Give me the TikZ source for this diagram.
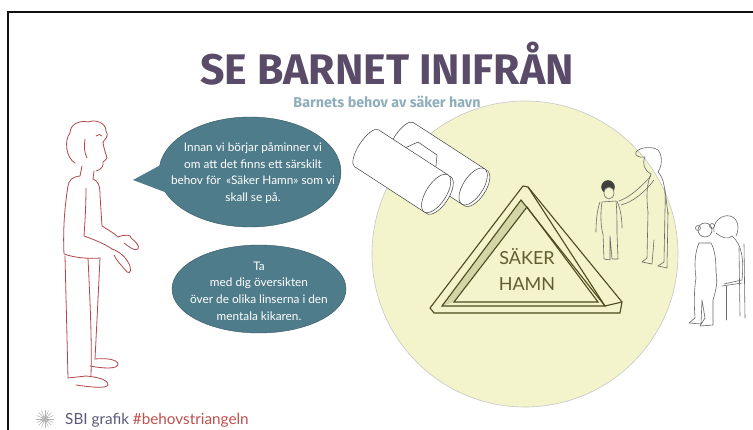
\documentclass[tikz,border=0pt]{standalone}
\usepackage{fontspec}
\setmainfont{Lato}
\newfontfamily\titlefont{Fira Sans}
\usetikzlibrary{calc}

\definecolor{frameblack}{HTML}{111111}
\definecolor{titlepurple}{HTML}{5A4B69}
\definecolor{subblue}{HTML}{8FAEBB}
\definecolor{bubblefill}{HTML}{4E7C8B}
\definecolor{lensfill}{HTML}{F3F3CC}
\definecolor{olive}{HTML}{4B4B1E}
\definecolor{olivetext}{HTML}{5E5E30}
\definecolor{stripfill}{HTML}{D3D6A6}
\definecolor{manred}{HTML}{B3474A}
\definecolor{sketchgray}{HTML}{6A6A6A}
\definecolor{footgray}{HTML}{5C5A78}
\definecolor{footred}{HTML}{C0504D}

\tikzset{
  bubble/.style={fill=bubblefill, draw=bubblefill!70!black, line width=0.4pt},
  bubbletext/.style={text=white, align=center, font=\fontsize{11.8}{16.6}\selectfont},
  barrel/.style={fill=white, draw=black!75, line width=0.5pt},
  tri/.style={draw=olive, line width=1.1pt, line join=miter},
  manline/.style={draw=manred, line width=0.8pt, line cap=round, line join=round},
  sketch/.style={draw=sketchgray, line width=0.6pt, line cap=round, line join=round},
}

\begin{document}
\begin{tikzpicture}[x=1pt, y=-1pt]
\useasboundingbox (0,0) rectangle (753,430);
\fill[white] (0,0) rectangle (753,430);

% frame
\draw[frameblack, line width=2.6pt] (8,432) -- (8,12) -- (756,12);

% lens circle
\draw[fill=lensfill, draw=black!22, line width=0.6pt] (525,254) circle [radius=153pt];

% title and subtitle
\node[font=\titlefont\bfseries\fontsize{42.8}{43}\selectfont, text=titlepurple, anchor=base] (title) at (387,85) {SE BARNET INIFRÅN};
\node[font=\titlefont\bfseries\fontsize{14.3}{15}\selectfont, text=subblue, anchor=base] (subtitle) at (387,108) {Barnets behov av säker havn};

% speech bubble 1 with tail
\draw[bubble] (250,172) ellipse [x radius=91pt, y radius=55pt];
\fill[bubblefill] (133,180) -- (170,160) -- (170,194) -- cycle;
\node[bubbletext] (b1) at (253,173) {Innan vi börjar påminner vi\\om att det finns ett särskilt\\behov för \,«Säker Hamn» som vi\\skall se på.};

% speech bubble 2
\draw[bubble] (259,289) ellipse [x radius=87pt, y radius=44pt];
\node[bubbletext] (b2) at (259,291) {Ta\\med dig översikten\\över de olika linserna i den\\mentala kikaren.};

% binoculars: right barrel, bridge, left barrel
\begin{scope}[shift={(474,187)}, rotate=-33]
  \fill[white] (-86,-21) rectangle (0,21);
  \draw[barrel] (-86,-21) -- (0,-21);
  \draw[barrel] (-86,21) -- (0,21);
  \draw[barrel] (-86,-21) arc [start angle=90, end angle=270, x radius=8pt, y radius=21pt];
  \draw[barrel] (2,0) ellipse [x radius=10pt, y radius=21pt];
  \draw[barrel] (-1,0) ellipse [x radius=10pt, y radius=21pt];
\end{scope}
\draw[barrel] (405,148) -- (418,142) -- (437,155) -- (436,166) -- (420,168) -- cycle;
\begin{scope}[shift={(437,194)}, rotate=-33]
  \fill[white] (-84,-22) rectangle (0,22);
  \draw[barrel] (-84,-22) -- (0,-22);
  \draw[barrel] (-84,22) -- (0,22);
  \draw[barrel] (-84,-22) arc [start angle=90, end angle=270, x radius=8pt, y radius=22pt];
  \draw[barrel] (2,0) ellipse [x radius=10pt, y radius=22pt];
  \draw[barrel] (-1,0) ellipse [x radius=10pt, y radius=22pt];
\end{scope}

% safe-harbour triangle
\coordinate (o1) at (523,186);
\coordinate (o2) at (528,187);
\coordinate (o3) at (622,302);
\coordinate (o4) at (620,313);
\coordinate (o5) at (434,313);
\coordinate (o6) at (430,308);
\coordinate (m1) at (521,200);
\coordinate (m2) at (442,306);
\coordinate (m3) at (605,306);
\coordinate (i1) at (527,207);
\coordinate (i2) at (454,302);
\coordinate (i3) at (598,302);
\fill[stripfill] (m1) -- (i1) -- (i2) -- (m2) -- cycle;
\draw[tri] (o1) -- (o2) -- (o3) -- (o4) -- (o5) -- (o6) -- cycle;
\draw[tri] (m1) -- (m2) -- (m3) -- cycle;
\draw[tri] (i1) -- (i2) -- (i3) -- cycle;
\draw[tri] (o2) -- (m3);
\draw[tri] (o3) -- (m3);
\node[font=\fontsize{18}{18}\selectfont, text=olivetext] (saker) at (527,257) {SÄKER};
\node[font=\fontsize{18}{18}\selectfont, text=olivetext] (hamn) at (527,284) {HAMN};

% man on the left
\draw[manline] (75,163) .. controls (66,158) and (64,140) .. (70,133)
  .. controls (70,124) and (80,120) .. (88,122)
  .. controls (96,119) and (106,123) .. (106,131)
  .. controls (110,136) and (104,140) .. (103,142);
\draw[manline] (103,142) .. controls (104,150) and (106,154) .. (107,158)
  .. controls (106,160) and (104,161) .. (103,162)
  .. controls (104,166) and (101,170) .. (96,171);
\draw[manline] (85,139) .. controls (84,146) and (84,152) .. (87,158);
\draw[manline] (96,136) .. controls (98,134) and (101,134) .. (102,136);
\draw[manline] (82,166) -- (80,176);
\draw[manline] (94,171) -- (93,179);
\draw[manline] (80,176) .. controls (72,177) and (69,180) .. (68,186)
  .. controls (64,210) and (63,235) .. (64,254)
  .. controls (75,258) and (90,259) .. (100,258);
\draw[manline] (93,179) .. controls (98,181) and (100,185) .. (100,195)
  -- (102,226);
\draw[manline] (86,188) .. controls (86,205) and (85,222) .. (84,236)
  .. controls (95,240) and (105,244) .. (112,249);
\draw[manline] (102,226) .. controls (108,230) and (114,233) .. (118,237);
\draw[manline] (118,237) .. controls (125,234) and (132,235) .. (131,238)
  .. controls (136,242) and (140,246) .. (138,249)
  .. controls (135,252) and (128,246) .. (124,243);
\draw[manline] (112,249) .. controls (118,251) and (124,255) .. (128,262)
  .. controls (132,268) and (131,275) .. (127,272)
  .. controls (122,266) and (116,260) .. (114,255);
\draw[manline] (65,256) -- (68,378) -- (86,376);
\draw[manline] (100,258) .. controls (98,300) and (96,340) .. (95,359);
\draw[manline] (88,258) .. controls (90,300) and (92,340) .. (91,376);
\draw[manline] (95,359) .. controls (105,358) and (117,359) .. (118,364)
  .. controls (118,370) and (100,368) .. (90,366);
\draw[manline] (86,376) .. controls (96,377) and (108,379) .. (108,385)
  .. controls (106,389) and (90,387) .. (76,385);

% standing adult and child
\draw[sketch] (636,152) .. controls (640,147) and (652,146) .. (658,150)
  .. controls (663,156) and (662,166) .. (658,172);
\draw[sketch] (636,152) .. controls (634,156) and (640,158) .. (645,157);
\draw[sketch] (645,157) .. controls (642,164) and (644,170) .. (651,174);
\draw[sketch] (651,174) .. controls (647,182) and (646,196) .. (648,212)
  -- (647,258) -- (642,262) -- (652,264) -- (654,240);
\draw[sketch] (658,172) .. controls (664,178) and (666,190) .. (665,210)
  -- (664,262) -- (658,266) -- (667,268) -- (668,212);
\draw[sketch] (651,176) .. controls (640,188) and (630,197) .. (619,201);
\draw[sketch] (654,180) .. controls (645,192) and (633,202) .. (621,205);
\draw[sketch] (665,190) -- (668,214);
\filldraw[black!75] (608,187) circle [radius=6.5pt];
\draw[sketch, fill=lensfill] (609,193) ellipse [x radius=5pt, y radius=6pt];
\draw[sketch] (600,202) .. controls (597,210) and (596,222) .. (596,232);
\draw[sketch] (617,201) .. controls (621,210) and (622,220) .. (622,228);
\draw[sketch] (602,202) .. controls (600,215) and (601,228) .. (603,234)
  -- (604,259) -- (610,260) -- (610,236) -- (612,259) -- (618,259) -- (617,233)
  .. controls (617,222) and (617,210) .. (616,201) -- cycle;

% seated adult with child on the lap
\draw[sketch] (714,232) .. controls (712,222) and (722,214) .. (730,216)
  .. controls (738,218) and (740,228) .. (736,236);
\draw[sketch] (716,233) .. controls (722,238) and (728,240) .. (732,236);
\draw[sketch] (732,236) .. controls (742,244) and (744,260) .. (742,280)
  -- (724,284);
\draw[sketch] (744,244) -- (745,318);
\draw[sketch] (739,248) -- (740,316);
\draw[sketch] (726,286) -- (726,320);
\draw[sketch] (722,286) -- (742,283);
\draw[sketch] (705,230) circle [radius=7pt];
\draw[sketch] (698,228) circle [radius=2.5pt];
\draw[sketch] (712,226) circle [radius=2.5pt];
\draw[sketch] (699,243) .. controls (695,252) and (694,265) .. (696,278)
  .. controls (694,290) and (694,305) .. (695,318)
  -- (689,323) -- (701,324) -- (702,300)
  -- (705,318) -- (700,326) -- (713,325) -- (713,300)
  .. controls (716,290) and (718,282) .. (716,272)
  .. controls (716,260) and (715,250) .. (711,243) -- cycle;

% footer
\begin{scope}[shift={(45,419)}]
  \foreach \a in {0,22.5,...,337.5}
    \draw[black!30, line width=0.5pt] (0,0) -- (\a:9pt);
  \draw[black!30, line width=0.5pt] (0,0) circle [radius=3pt];
\end{scope}
\node[font=\fontsize{15.3}{15.3}\selectfont, anchor=base west, inner sep=0pt] (foot) at (65,425)
  {\textcolor{footgray}{SBI grafik} \textcolor{footred}{\#behovstriangeln}};
\end{tikzpicture}
\end{document}
